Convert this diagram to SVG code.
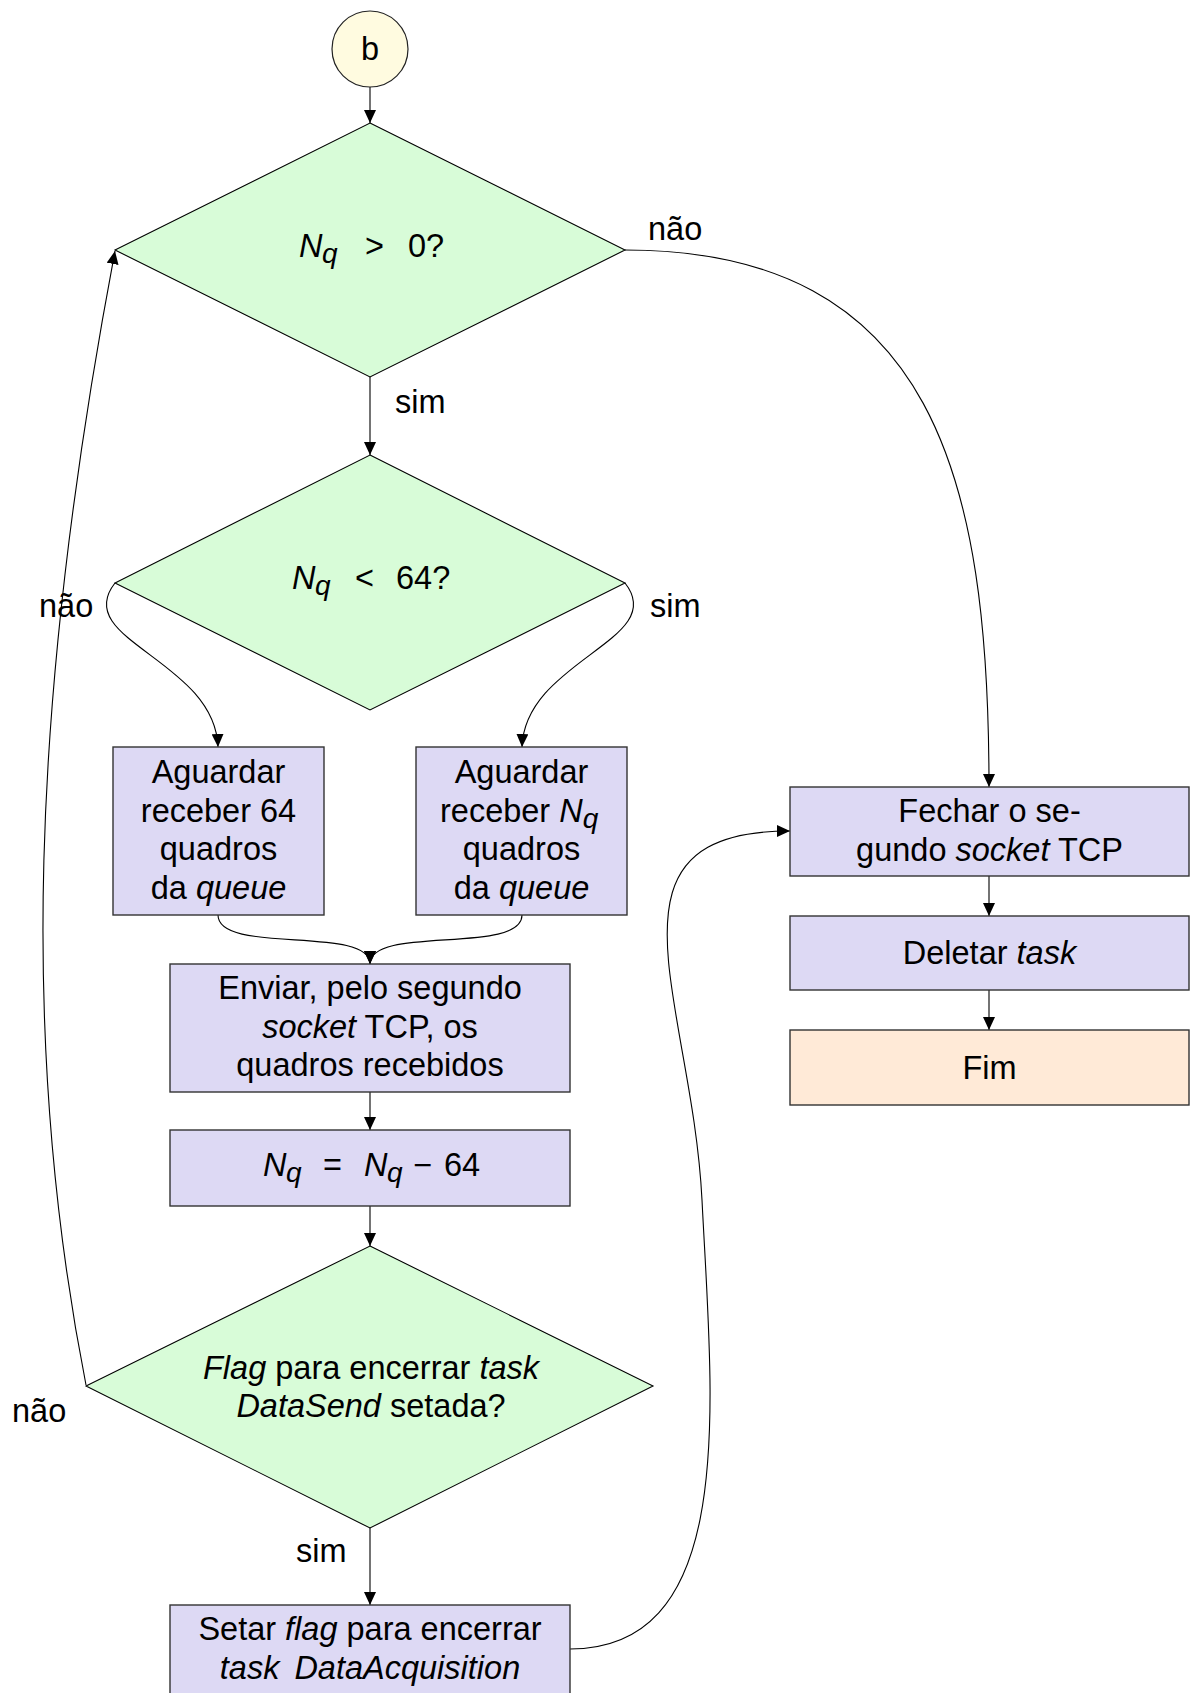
<svg xmlns="http://www.w3.org/2000/svg" width="1192" height="1693" viewBox="0 0 1192 1693">
  <defs>
    <marker id="ah" markerWidth="13" markerHeight="12" refX="13" refY="6" orient="auto" markerUnits="userSpaceOnUse">
      <path d="M0,0 L13,6 L0,12 z" fill="#000"/>
    </marker>
    <style>
      text { font-family: "Liberation Sans", Arial, Helvetica, sans-serif; font-size: 32.5px; fill: #000; }
      .c { text-anchor: middle; }
      .i { font-style: italic; }
      .sub { font-style: italic; font-size: 28px; }
      .dec { fill: #d8fcd8; stroke: #000; stroke-width: 1.1; }
      .box { fill: #ddd9f4; stroke: #333; stroke-width: 1.4; }
      .end { fill: #ffead7; stroke: #333; stroke-width: 1.4; }
      .conn { fill: #fffbe0; stroke: #222; stroke-width: 1.2; }
      .edge { fill: none; stroke: #000; stroke-width: 1.1; marker-end: url(#ah); }
    </style>
  </defs>
  <rect width="1192" height="1693" fill="#fff"/>

  <!-- connectors -->
  <g id="edges">
    <path class="edge" d="M370,87 L370,123"/>
    <path class="edge" d="M370,377 L370,455"/>
    <path class="edge" d="M625,250 C935,250 989,480 989,787"/>
    <path class="edge" d="M115,583 C70,640 215,660 218,747"/>
    <path class="edge" d="M625,583 C670,640 525,660 522,747"/>
    <path class="edge" d="M218,915 C218,955 370,925 370,964"/>
    <path class="edge" d="M522,915 C522,955 370,925 370,964"/>
    <path class="edge" d="M370,1092 L370,1130"/>
    <path class="edge" d="M370,1206 L370,1246"/>
    <path class="edge" d="M370,1528 L370,1605"/>
    <path class="edge" d="M86,1385 C20,1050 30,700 115,251"/>
    <path class="edge" d="M570,1649 C740,1649 712,1400 702,1200 C692,1000 590,831 790,831"/>
    <path class="edge" d="M989,876 L989,916"/>
    <path class="edge" d="M989,990 L989,1030"/>
    <text x="648" y="240">não</text>
    <text x="395" y="413">sim</text>
    <text x="39" y="617">não</text>
    <text x="650" y="617">sim</text>
    <text x="12" y="1422">não</text>
    <text x="296" y="1562">sim</text>
  </g>

  <!-- connector b -->
  <g id="start">
    <circle class="conn" cx="370" cy="49" r="38"/>
    <text class="c" x="370" y="60">b</text>
  </g>

  <!-- decision: Nq > 0 -->
  <g id="dec1">
    <polygon class="dec" points="370,123 625,250 370,377 115,250"/>
    <text y="257"><tspan class="i" x="299">N</tspan><tspan class="sub" x="322" dy="6">q</tspan><tspan x="365" dy="-6">&gt;</tspan><tspan x="408">0?</tspan></text>
  </g>

  <!-- decision: Nq < 64 -->
  <g id="dec2">
    <polygon class="dec" points="370,455 625,583 370,710 115,583"/>
    <text y="589"><tspan class="i" x="292">N</tspan><tspan class="sub" x="315" dy="6">q</tspan><tspan x="355" dy="-6">&lt;</tspan><tspan x="396">64?</tspan></text>
  </g>

  <!-- wait 64 frames -->
  <g id="wait64">
    <rect class="box" x="113" y="747" width="211" height="168"/>
    <text class="c" x="218.5" y="783">Aguardar</text>
    <text class="c" x="218.5" y="822">receber 64</text>
    <text class="c" x="218.5" y="860">quadros</text>
    <text class="c" x="218.5" y="899">da <tspan class="i">queue</tspan></text>
  </g>

  <!-- wait Nq frames -->
  <g id="waitNq">
    <rect class="box" x="416" y="747" width="211" height="168"/>
    <text class="c" x="521.5" y="783">Aguardar</text>
    <text y="822"><tspan x="440">receber </tspan><tspan class="i">N</tspan><tspan class="sub" dy="6">q</tspan></text>
    <text class="c" x="521.5" y="860">quadros</text>
    <text class="c" x="521.5" y="899">da <tspan class="i">queue</tspan></text>
  </g>

  <!-- send frames -->
  <g id="send">
    <rect class="box" x="170" y="964" width="400" height="128"/>
    <text class="c" x="370" y="999">Enviar, pelo segundo</text>
    <text class="c" x="370" y="1038"><tspan class="i">socket</tspan> TCP, os</text>
    <text class="c" x="370" y="1076">quadros recebidos</text>
  </g>

  <!-- Nq = Nq - 64 -->
  <g id="update">
    <rect class="box" x="170" y="1130" width="400" height="76"/>
    <text y="1176"><tspan class="i" x="263">N</tspan><tspan class="sub" x="286" dy="6">q</tspan><tspan x="323" dy="-6">=</tspan><tspan class="i" x="364">N</tspan><tspan class="sub" x="387" dy="6">q</tspan><tspan x="413" dy="-6">−</tspan><tspan x="444">64</tspan></text>
  </g>

  <!-- decision: stop flag -->
  <g id="dec3">
    <polygon class="dec" points="370,1246 653,1386 370,1528 86,1386"/>
    <text class="c" x="371" y="1379"><tspan class="i">Flag</tspan> para encerrar <tspan class="i">task</tspan></text>
    <text class="c" x="371" y="1417"><tspan class="i">DataSend</tspan> setada?</text>
  </g>

  <!-- set flag -->
  <g id="setflag">
    <rect class="box" x="170" y="1605" width="400" height="100"/>
    <text class="c" x="370" y="1640">Setar <tspan class="i">flag</tspan> para encerrar</text>
    <text class="c i" x="370" y="1679">task<tspan dx="15">DataAcquisition</tspan></text>
  </g>

  <!-- close socket -->
  <g id="close">
    <rect class="box" x="790" y="787" width="399" height="89"/>
    <text class="c" x="989.5" y="822">Fechar o se-</text>
    <text class="c" x="989.5" y="861">gundo <tspan class="i">socket</tspan> TCP</text>
  </g>

  <!-- delete task -->
  <g id="delete">
    <rect class="box" x="790" y="916" width="399" height="74"/>
    <text class="c" x="989.5" y="964">Deletar <tspan class="i">task</tspan></text>
  </g>

  <!-- end -->
  <g id="fim">
    <rect class="end" x="790" y="1030" width="399" height="75"/>
    <text class="c" x="989.5" y="1079">Fim</text>
  </g>
</svg>
